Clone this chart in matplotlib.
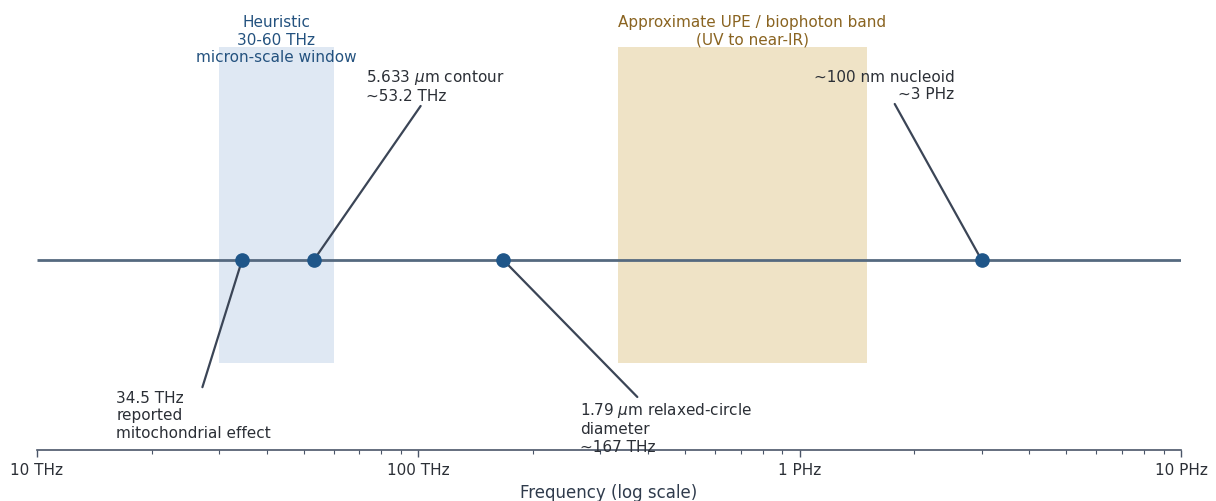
import numpy as np
import matplotlib.pyplot as plt
from matplotlib.ticker import FixedLocator, LogLocator, NullFormatter

# marker frequencies (Hz)
point_freqs = [34.5e12, 53.2e12, 167e12, 3.0e15]

# shaded bands (Hz)
heuristic_band = (30e12, 60e12)
upe_band = (3.33e14, 1.5e15)

tick_values = [1e13, 1e14, 1e15, 1e16]
tick_labels = ["10 THz", "100 THz", "1 PHz", "10 PHz"]

# annotation text and offsets (points) from the marker
annotations = [
	(34.5e12, "34.5 THz\nreported\nmitochondrial effect", (-90.5, -111.5), "left"),
	(53.2e12, "5.633 $\\mu$m contour\n~53.2 THz", (37.5, 126), "left"),
	(167e12, "1.79 $\\mu$m relaxed-circle\ndiameter\n~167 THz", (55.5, -120), "left"),
	(3.0e15, "~100 nm nucleoid\n~3 PHz", (-19.5, 126), "right"),
]

BLUE_BAND = "#dfe8f3"
BEIGE_BAND = "#efe3c6"
LINE = "#55697f"
MARKER = "#1f5689"
LEADER = "#3b4556"
TEXT = "#2b2f36"


def main():
	plt.rcParams["font.family"] = ["DejaVu Sans"]
	plt.rcParams["mathtext.fontset"] = "dejavusans"

	fig = plt.figure(figsize=(12.16, 5.02), dpi=100)
	ax = fig.add_axes([37 / 1216, 51 / 502, 1144 / 1216, 418 / 502])
	ax.set_xscale("log")
	ax.set_xlim(1e13, 1e16)
	ax.set_ylim(-1, 1.2)

	ax.fill_between(heuristic_band, -0.54, 1.12, color=BLUE_BAND, linewidth=0, zorder=0)
	ax.fill_between(upe_band, -0.54, 1.12, color=BEIGE_BAND, linewidth=0, zorder=0)

	ax.text(np.sqrt(heuristic_band[0] * heuristic_band[1]), 1.163,
		"Heuristic\n30-60 THz\nmicron-scale window",
		ha="center", va="center", fontsize=11, color="#24527f")
	ax.text(7.5e14, 1.21, "Approximate UPE / biophoton band\n(UV to near-IR)",
		ha="center", va="center", fontsize=11, color="#8a6421")

	ax.hlines(0, 1e13, 1e16, color=LINE, linewidth=2, zorder=2)
	ax.plot(point_freqs, [0] * len(point_freqs), "o", color=MARKER, markersize=9.5, zorder=4)

	for freq, label, offset, ha in annotations:
		ax.annotate(
			label,
			xy=(freq, 0),
			xytext=offset,
			textcoords="offset points",
			ha=ha,
			va="center",
			fontsize=11,
			color=TEXT,
			arrowprops=dict(arrowstyle="-", color=LEADER, linewidth=1.6, shrinkA=0, shrinkB=0),
			zorder=3,
		)

	ax.xaxis.set_major_locator(FixedLocator(tick_values))
	ax.set_xticklabels(tick_labels)
	ax.xaxis.set_minor_locator(LogLocator(base=10, subs=np.arange(2, 10)))
	ax.xaxis.set_minor_formatter(NullFormatter())
	ax.tick_params(axis="x", which="major", length=5, width=1, colors="#4a5568", labelsize=11,
		labelcolor=TEXT, pad=4)
	ax.tick_params(axis="x", which="minor", length=3, width=0.8, colors="#4a5568")
	ax.set_yticks([])
	for side in ["left", "right", "top"]:
		ax.spines[side].set_visible(False)
	ax.spines["bottom"].set_color("#4a5568")
	ax.spines["bottom"].set_linewidth(1.2)
	ax.set_xlabel("Frequency (log scale)", fontsize=12, color="#2f3b4c", labelpad=4)

	fig.savefig("out.png", dpi=100)


if __name__ == "__main__":
	main()
